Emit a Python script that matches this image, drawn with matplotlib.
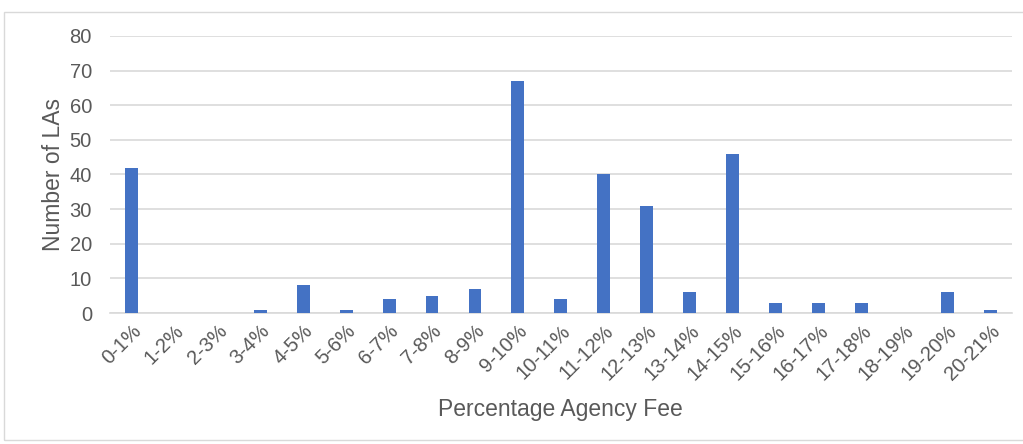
import matplotlib.pyplot as plt
from matplotlib.patches import Rectangle

categories = ["0-1%", "1-2%", "2-3%", "3-4%", "4-5%", "5-6%", "6-7%", "7-8%",
              "8-9%", "9-10%", "10-11%", "11-12%", "12-13%", "13-14%", "14-15%",
              "15-16%", "16-17%", "17-18%", "18-19%", "19-20%", "20-21%"]
counts = [42, 0, 0, 1, 8, 1, 4, 5, 7, 67, 4, 40, 31, 6, 46, 3, 3, 3, 0, 6, 1]
yticks = [0, 10, 20, 30, 40, 50, 60, 70, 80]

plt.rcParams['font.family'] = ['Liberation Sans', 'DejaVu Sans']
text_color = '#595959'

fig = plt.figure(figsize=(10.23, 4.44), dpi=100)
ax = fig.add_axes([0.1075, 0.295, 0.8815, 0.624])

ax.bar(range(len(categories)), counts, width=0.3, color='#4472C4', zorder=3)

ax.set_xlim(-0.5, len(categories) - 0.5)
ax.set_ylim(0, 80)
ax.set_yticks(yticks)
ax.set_xticks(range(len(categories)))
ax.set_xticklabels(categories, rotation=45, ha='right', rotation_mode='anchor')
ax.tick_params(axis='both', length=0, labelsize=14.5, colors=text_color)
ax.tick_params(axis='y', pad=13)
ax.tick_params(axis='x', pad=6)
ax.grid(axis='y', color='#D9D9D9', linewidth=1.2, zorder=0)
for side in ['top', 'right', 'left']:
    ax.spines[side].set_visible(False)
ax.spines['bottom'].set_color('#D9D9D9')
ax.spines['bottom'].set_linewidth(1.2)

ax.set_ylabel("Number of LAs", fontsize=16.5, color=text_color, labelpad=3)
ax.set_xlabel("Percentage Agency Fee", fontsize=16.5, color=text_color, labelpad=10)

# light border around the whole chart
fig.patches.append(Rectangle((0.004, 0.008), 1.2, 0.966, transform=fig.transFigure,
                             fill=False, edgecolor='#D9D9D9', linewidth=1))

fig.savefig("out.png", dpi=100)
